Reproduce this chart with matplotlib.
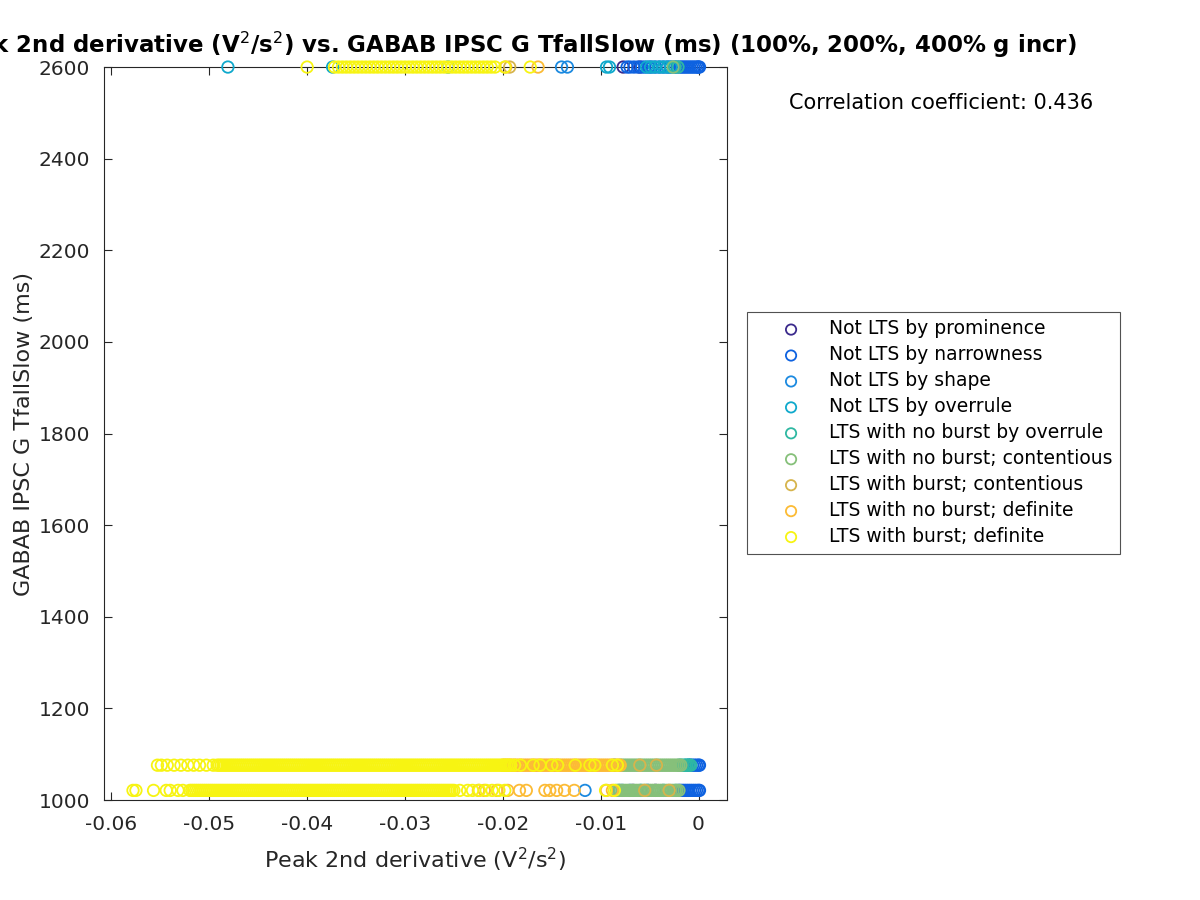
import matplotlib
matplotlib.use('Agg')
import matplotlib.pyplot as plt

# x values are given in units of 1e-3 V^2/s^2, the three y levels in ms
y_levels = [1021, 1076, 2600]

labels = ['Not LTS by prominence', 'Not LTS by narrowness', 'Not LTS by shape',
          'Not LTS by overrule', 'LTS with no burst by overrule',
          'LTS with no burst; contentious', 'LTS with burst; contentious',
          'LTS with no burst; definite', 'LTS with burst; definite']
colors = ['#3b2a8c', '#0e62e0', '#1c8ae0', '#0fa9cc', '#2fb8a2',
          '#86c07a', '#d6b44c', '#fcbb35', '#f7f412']

# Not LTS by prominence
prom_lo = [-6.7, -4.4]
prom_mid = []
prom_top = [-7.7, -6.0]

# Not LTS by narrowness
narrow_lo = [-5.2, -2.0, -1.8, -1.6, -1.4, -1.2, -1.0, -0.8, -0.6, -0.4, -0.2, 0.0, 0.1]
narrow_mid = [-1.0, -0.8, -0.6, -0.4, -0.2, 0.0, 0.1]
narrow_top = [-7.3, -7.0, -6.6, -6.2, -5.8, -5.5, -5.1, -4.8, -4.4, -4.0, -3.6, -3.2,
              -2.9, -2.5, -2.2, -1.9, -1.7, -1.5, -1.3, -1.1, -0.9, -0.7, -0.5, -0.3,
              -0.1, 0.0, 0.1]

# Not LTS by shape
shape_lo = [-11.6, -7.8, -7.0]
shape_mid = [-8.6]
shape_top = [-14.0, -13.4]

# Not LTS by overrule
over_lo = [-8.1, -5.9, -3.6]
over_mid = [-1.3, -1.0]
over_top = [-48.1, -37.4, -25.6, -9.4, -9.1, -5.3, -4.9, -4.5, -4.0, -3.6, -3.2, -2.8]

# LTS with no burst by overrule
nbover_lo = [-2.3]
nbover_mid = [-2.0, -1.8, -1.6, -1.4, -1.2, -1.0, -0.8]
nbover_top = [-2.4, -2.1]

# LTS with no burst; contentious
nbcont_lo = [-8.4, -8.2, -8.0, -7.8, -7.6, -7.4, -7.2, -7.0, -6.8, -6.6, -6.4, -6.2,
             -6.0, -5.8, -5.6, -5.4, -5.2, -5.0, -4.8, -4.6, -4.4, -4.2, -4.0, -3.8,
             -3.6, -3.4, -3.2, -3.0, -2.8, -2.6, -2.4, -2.2, -2.0]
nbcont_mid = [-8.0, -7.8, -7.6, -7.4, -7.2, -7.0, -6.8, -6.6, -6.4, -6.2, -6.0, -5.8,
              -5.6, -5.4, -5.2, -5.0, -4.8, -4.6, -4.4, -4.2, -4.0, -3.8, -3.6, -3.4,
              -3.2, -3.0, -2.8, -2.6, -2.4, -2.2, -2.0, -1.8]
nbcont_top = [-2.6]

# LTS with burst; contentious
bcont_lo = [-5.5, -3.0]
bcont_mid = [-6.0, -4.3]
bcont_top = [-19.3]

# LTS with no burst; definite
nbdef_lo = [-22.5, -21.9, -20.6, -19.5, -18.3, -17.6, -15.7, -15.2, -14.5, -13.7,
            -12.7, -9.4, -8.8]
nbdef_mid = [-20.0, -19.8, -19.6, -19.4, -19.2, -19.0, -18.8, -18.6, -18.4, -18.2,
             -18.0, -17.8, -17.6, -17.4, -17.2, -17.0, -16.8, -16.6, -16.4, -16.2,
             -16.0, -15.8, -15.6, -15.4, -15.2, -15.0, -14.8, -14.6, -14.4, -14.2,
             -14.0, -13.8, -13.6, -13.4, -13.2, -13.0, -12.8, -12.6, -12.4, -12.2,
             -12.0, -11.8, -11.6, -11.4, -11.2, -11.0, -10.8, -10.6, -10.4, -10.2,
             -10.0, -9.8, -9.6, -9.4, -9.2, -9.0, -8.8, -8.6, -8.4, -8.2, -8.0]
nbdef_top = [-19.7, -16.4]

# LTS with burst; definite
bdef_lo = [-57.8, -57.5, -55.7, -54.4, -54.0, -53.2, -52.7,
           -52.0, -51.8, -51.6, -51.4, -51.2, -51.0, -50.8, -50.6, -50.4, -50.2,
           -50.0, -49.8, -49.6, -49.4, -49.2, -49.0, -48.8, -48.6, -48.4, -48.2,
           -48.0, -47.8, -47.6, -47.4, -47.2, -47.0, -46.8, -46.6, -46.4, -46.2,
           -46.0, -45.8, -45.6, -45.4, -45.2, -45.0, -44.8, -44.6, -44.4, -44.2,
           -44.0, -43.8, -43.6, -43.4, -43.2, -43.0, -42.8, -42.6, -42.4, -42.2,
           -42.0, -41.8, -41.6, -41.4, -41.2, -41.0, -40.8, -40.6, -40.4, -40.2,
           -40.0, -39.8, -39.6, -39.4, -39.2, -39.0, -38.8, -38.6, -38.4, -38.2,
           -38.0, -37.8, -37.6, -37.4, -37.2, -37.0, -36.8, -36.6, -36.4, -36.2,
           -36.0, -35.8, -35.6, -35.4, -35.2, -35.0, -34.8, -34.6, -34.4, -34.2,
           -34.0, -33.8, -33.6, -33.4, -33.2, -33.0, -32.8, -32.6, -32.4, -32.2,
           -32.0, -31.8, -31.6, -31.4, -31.2, -31.0, -30.8, -30.6, -30.4, -30.2,
           -30.0, -29.8, -29.6, -29.4, -29.2, -29.0, -28.8, -28.6, -28.4, -28.2,
           -28.0, -27.8, -27.6, -27.4, -27.2, -27.0, -26.8, -26.6, -26.4, -26.2,
           -26.0, -25.8, -25.6, -25.4, -25.2, -25.0,
           -24.4, -23.6, -23.1, -22.4, -21.7, -21.1, -20.4, -19.8, -9.5, -8.6]
bdef_mid = [-55.3, -54.9, -54.3, -53.6, -52.9, -52.2, -51.6, -51.0, -50.3, -49.6,
            -49.2, -49.0, -48.8, -48.6, -48.4, -48.2, -48.0, -47.8, -47.6, -47.4,
            -47.2, -47.0, -46.8, -46.6, -46.4, -46.2, -46.0, -45.8, -45.6, -45.4,
            -45.2, -45.0, -44.8, -44.6, -44.4, -44.2, -44.0, -43.8, -43.6, -43.4,
            -43.2, -43.0, -42.8, -42.6, -42.4, -42.2, -42.0, -41.8, -41.6, -41.4,
            -41.2, -41.0, -40.8, -40.6, -40.4, -40.2, -40.0, -39.8, -39.6, -39.4,
            -39.2, -39.0, -38.8, -38.6, -38.4, -38.2, -38.0, -37.8, -37.6, -37.4,
            -37.2, -37.0, -36.8, -36.6, -36.4, -36.2, -36.0, -35.8, -35.6, -35.4,
            -35.2, -35.0, -34.8, -34.6, -34.4, -34.2, -34.0, -33.8, -33.6, -33.4,
            -33.2, -33.0, -32.8, -32.6, -32.4, -32.2, -32.0, -31.8, -31.6, -31.4,
            -31.2, -31.0, -30.8, -30.6, -30.4, -30.2, -30.0, -29.8, -29.6, -29.4,
            -29.2, -29.0, -28.8, -28.6, -28.4, -28.2, -28.0, -27.8, -27.6, -27.4,
            -27.2, -27.0, -26.8, -26.6, -26.4, -26.2, -26.0, -25.8, -25.6, -25.4,
            -25.2, -25.0, -24.8, -24.6, -24.4, -24.2, -24.0, -23.8, -23.6, -23.4,
            -23.2, -23.0, -22.8, -22.6, -22.4, -22.2, -22.0, -21.8, -21.6, -21.4,
            -21.2, -21.0, -20.8, -20.6, -20.4, -20.2, -20.0, -19.8, -19.6, -19.4,
            -19.2,
            -18.8, -18.2, -16.9, -16.2, -15.0, -14.4, -12.6, -11.1, -10.6, -8.8, -8.3]
bdef_top = [-40.0,
            -37.2, -36.8, -36.4, -36.0, -35.6, -35.2, -34.8, -34.4, -34.0, -33.6,
            -33.2, -32.8, -32.4, -32.0, -31.6, -31.2, -30.8, -30.4, -30.0, -29.6,
            -29.2, -28.8, -28.4, -28.0, -27.6, -27.2, -26.8, -26.4, -26.0, -25.6,
            -25.2, -24.8, -24.4, -24.0, -23.6, -23.2, -22.8, -22.4, -22.0, -21.6,
            -21.2, -20.8, -19.8, -17.2]

groups = [
    (prom_lo, prom_mid, prom_top),
    (narrow_lo, narrow_mid, narrow_top),
    (shape_lo, shape_mid, shape_top),
    (over_lo, over_mid, over_top),
    (nbover_lo, nbover_mid, nbover_top),
    (nbcont_lo, nbcont_mid, nbcont_top),
    (bcont_lo, bcont_mid, bcont_top),
    (nbdef_lo, nbdef_mid, nbdef_top),
    (bdef_lo, bdef_mid, bdef_top),
]

x_ticks = [-0.06, -0.05, -0.04, -0.03, -0.02, -0.01, 0]
x_tick_labels = ['-0.06', '-0.05', '-0.04', '-0.03', '-0.02', '-0.01', '0']
y_ticks = [1000, 1200, 1400, 1600, 1800, 2000, 2200, 2400, 2600]

fig = plt.figure(figsize=(12, 9), dpi=100)
ax = fig.add_axes([0.0867, 0.1111, 0.5188, 0.8144])

for (lo, mid, top), lab, col in zip(groups, labels, colors):
    xs = []
    ys = []
    for vals, yv in zip((lo, mid, top), y_levels):
        xs += [v * 1e-3 for v in vals]
        ys += [yv] * len(vals)
    ax.scatter(xs, ys, s=68, facecolors='none', edgecolors=col,
               linewidths=1.3, label=lab, clip_on=False, zorder=3)

ax.set_xlim(-0.06076, 0.00287)
ax.set_ylim(1000, 2600)
ax.set_xticks(x_ticks)
ax.set_xticklabels(x_tick_labels)
ax.set_yticks(y_ticks)
ax.tick_params(direction='in', top=True, right=True, length=6, width=0.8,
               labelsize=14.5, colors='#262626')
ax.tick_params(axis='x', pad=11)
ax.tick_params(axis='y', pad=10)
for sp in ax.spines.values():
    sp.set_color('#262626')
    sp.set_linewidth(0.8)

ax.set_xlabel('Peak 2nd derivative (V$^2$/s$^2$)', fontsize=16, color='#262626', labelpad=8)
ax.set_ylabel('GABAB IPSC G TfallSlow (ms)', fontsize=16, color='#262626', labelpad=3)

# the title is wider than the figure on the left, as in the original
fig.text(1077 / 1200, 0.95,
         'Peak 2nd derivative (V$^2$/s$^2$) vs. GABAB IPSC G TfallSlow (ms) (100%, 200%, 400% g incr)',
         ha='right', va='center', fontsize=16.5, fontweight='bold')
fig.text(941 / 1200, 1 - 103 / 900, 'Correlation coefficient: 0.436', ha='center', va='center',
         fontsize=15)

leg = fig.legend(loc='upper left', bbox_to_anchor=(747 / 1200, 1 - 312 / 900),
                 fontsize=13.5, frameon=True, fancybox=False, edgecolor='#262626',
                 borderpad=0.4, handlelength=3.9, handletextpad=0.05,
                 labelspacing=0.37, borderaxespad=0)
leg.get_frame().set_linewidth(0.8)
for h in leg.legend_handles:
    h.set_sizes([55])

fig.savefig('out.png', dpi=100)
